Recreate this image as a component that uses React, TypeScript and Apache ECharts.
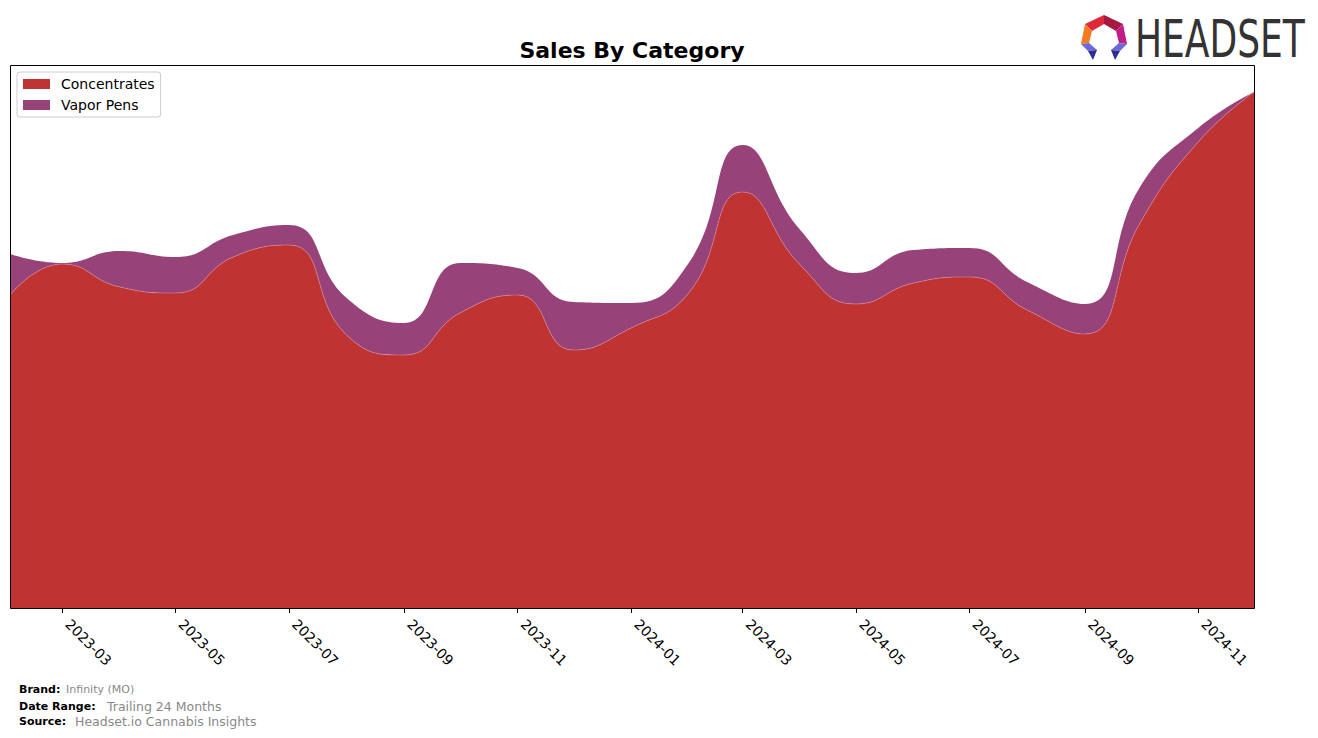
import React, { useEffect, useRef } from "react";
import * as echarts from "echarts";

const months = [
  "2023-02", "2023-03", "2023-04", "2023-05", "2023-06", "2023-07", "2023-08",
  "2023-09", "2023-10", "2023-11", "2023-12", "2024-01", "2024-02", "2024-03",
  "2024-04", "2024-05", "2024-06", "2024-07", "2024-08", "2024-09", "2024-10",
  "2024-11", "2024-12",
];
const concentrates = [
  313, 344, 321, 315, 351, 363, 273, 253, 295, 313, 258, 280, 315, 416, 343,
  304, 325, 331, 298, 274, 386, 466, 516,
];
const vaporPens = [
  41, 1, 36, 36, 22, 20, 37, 32, 50, 27, 48, 25, 30, 47, 35, 31, 33, 29, 28,
  30, 36, 14, 0,
];
const tickMonths = [
  "2023-03", "2023-05", "2023-07", "2023-09", "2023-11", "2024-01", "2024-03",
  "2024-05", "2024-07", "2024-09", "2024-11",
];
const seriesNames = ["Concentrates", "Vapor Pens"];
const seriesColors = ["#c03333", "#974379"];
const titleText = "Sales By Category";
const footer = [
  { label: "Brand:", value: "Infinity (MO)" },
  { label: "Date Range:", value: "Trailing 24 Months" },
  { label: "Source:", value: "Headset.io Cannabis Insights" },
];

const toTs = (m: string) => {
  const [y, mo] = m.split("-").map(Number);
  return Date.UTC(y, mo - 1, 1);
};
const fmt = (v: number) => {
  const d = new Date(v);
  return `${d.getUTCFullYear()}-${String(d.getUTCMonth() + 1).padStart(2, "0")}`;
};

const FONT = '"DejaVu Sans", sans-serif';

export default function App() {
  const ref = useRef<HTMLDivElement>(null);
  useEffect(() => {
    if (!ref.current) return;
    const chart = echarts.init(ref.current, null, { renderer: "svg" });
    const tickTs = tickMonths.map(toTs);
    const xMin = toTs(months[0]);
    const xMax = toTs(months[months.length - 1]);
    const option = {
      animation: false,
      backgroundColor: "#ffffff",
      grid: { left: 10, right: 64, top: 65, bottom: 130, containLabel: false },
      legend: {
        orient: "vertical",
        left: 17,
        top: 72,
        padding: [5, 6, 5, 6],
        itemWidth: 27,
        itemHeight: 10,
        itemGap: 7,
        icon: "rect",
        borderColor: "#cccccc",
        borderWidth: 1,
        borderRadius: 3,
        backgroundColor: "#ffffff",
        data: seriesNames,
        textStyle: {
          fontFamily: FONT,
          fontSize: 14,
          color: "#000",
          lineHeight: 14,
          padding: [0, 0, 0, 6],
        },
      },
      xAxis: [
        {
          type: "time",
          min: xMin,
          max: xMax,
          axisLine: { show: false },
          splitLine: { show: false },
          axisTick: { show: false },
          axisLabel: { show: false },
        },
        {
          type: "value",
          position: "bottom",
          min: xMin,
          max: xMax,
          axisLine: { show: false },
          splitLine: { show: false },
          axisTick: {
            show: true,
            length: 5,
            customValues: tickTs,
            lineStyle: { color: "#000", width: 1 },
          },
          axisLabel: {
            customValues: tickTs,
            rotate: -45,
            margin: 8,
            padding: [0, 0, 0, 8],
            fontFamily: FONT,
            fontSize: 14,
            color: "#000",
            formatter: (v: number) => fmt(v),
          },
        },
      ],
      yAxis: {
        type: "value",
        min: 0,
        max: 543,
        show: false,
        splitLine: { show: false },
      },
      series: [
        {
          name: seriesNames[0],
          type: "line",
          xAxisIndex: 0,
          stack: "total",
          smooth: 0.5,
          symbol: "none",
          color: seriesColors[0],
          lineStyle: { width: 0.6, color: "rgba(230,150,160,0.8)" },
          areaStyle: { color: seriesColors[0], opacity: 1 },
          data: months.map((m, i) => [toTs(m), concentrates[i]]),
        },
        {
          name: seriesNames[1],
          type: "line",
          xAxisIndex: 0,
          stack: "total",
          smooth: 0.5,
          symbol: "none",
          color: seriesColors[1],
          lineStyle: { width: 0 },
          areaStyle: { color: seriesColors[1], opacity: 1 },
          data: months.map((m, i) => [toTs(m), vaporPens[i]]),
        },
      ],
      graphic: [
        {
          type: "rect",
          shape: { x: 10.5, y: 65.5, width: 1244, height: 543 },
          style: { fill: "none", stroke: "#000", lineWidth: 1 },
          z: 100,
          silent: true,
        },
        {
          type: "text",
          x: 632,
          y: 50,
          style: {
            text: titleText,
            font: `bold 22px ${FONT}`,
            fill: "#000",
            textAlign: "center",
            textVerticalAlign: "middle",
          },
        },
        ...footer.flatMap((f, i) => {
          const ys = [689, 706, 721];
          const xs = [66, 107, 75];
          const sizes = [11, 12.5, 12.5];
          return [
            {
              type: "text",
              x: 19,
              y: ys[i],
              style: {
                text: f.label,
                font: `bold 11px ${FONT}`,
                fill: "#000",
                textVerticalAlign: "middle",
              },
            },
            {
              type: "text",
              x: xs[i],
              y: ys[i],
              style: {
                text: f.value,
                font: `${sizes[i]}px ${FONT}`,
                fill: "#888888",
                textVerticalAlign: "middle",
              },
            },
          ];
        }),
        { type: "polygon", shape: { points: [[1104, 15], [1085, 24], [1092, 31], [1104, 24]] }, style: { fill: "#e0283c" } },
        { type: "polygon", shape: { points: [[1104, 15], [1123, 24], [1116, 31], [1104, 24]] }, style: { fill: "#a8173e" } },
        { type: "polygon", shape: { points: [[1085, 24], [1081, 44], [1089, 43], [1092, 31]] }, style: { fill: "#f47b20" } },
        { type: "polygon", shape: { points: [[1123, 24], [1127, 44], [1119, 43], [1116, 31]] }, style: { fill: "#c01d85" } },
        { type: "polygon", shape: { points: [[1081, 44], [1089, 43], [1097, 50], [1088, 51]] }, style: { fill: "#6a6ad8" } },
        { type: "polygon", shape: { points: [[1088, 51], [1097, 50], [1093, 60]] }, style: { fill: "#2e2e8c" } },
        { type: "polygon", shape: { points: [[1127, 44], [1119, 43], [1111, 50], [1120, 51]] }, style: { fill: "#6a6ad8" } },
        { type: "polygon", shape: { points: [[1120, 51], [1111, 50], [1115, 60]] }, style: { fill: "#2e2e8c" } },
        {
          type: "text",
          x: 1135,
          y: 39,
          scaleX: 0.77,
          style: {
            text: "HEADSET",
            font: `52px "DejaVu Sans Condensed", "DejaVu Sans", sans-serif`,
            fill: "#333333",
            textVerticalAlign: "middle",
          },
        },
      ],
    };
    chart.setOption(option as any);
    return () => chart.dispose();
  }, []);
  return (
    <div
      ref={ref}
      style={{ position: "absolute", left: 0, top: 0, width: 1318, height: 738 }}
    />
  );
}
